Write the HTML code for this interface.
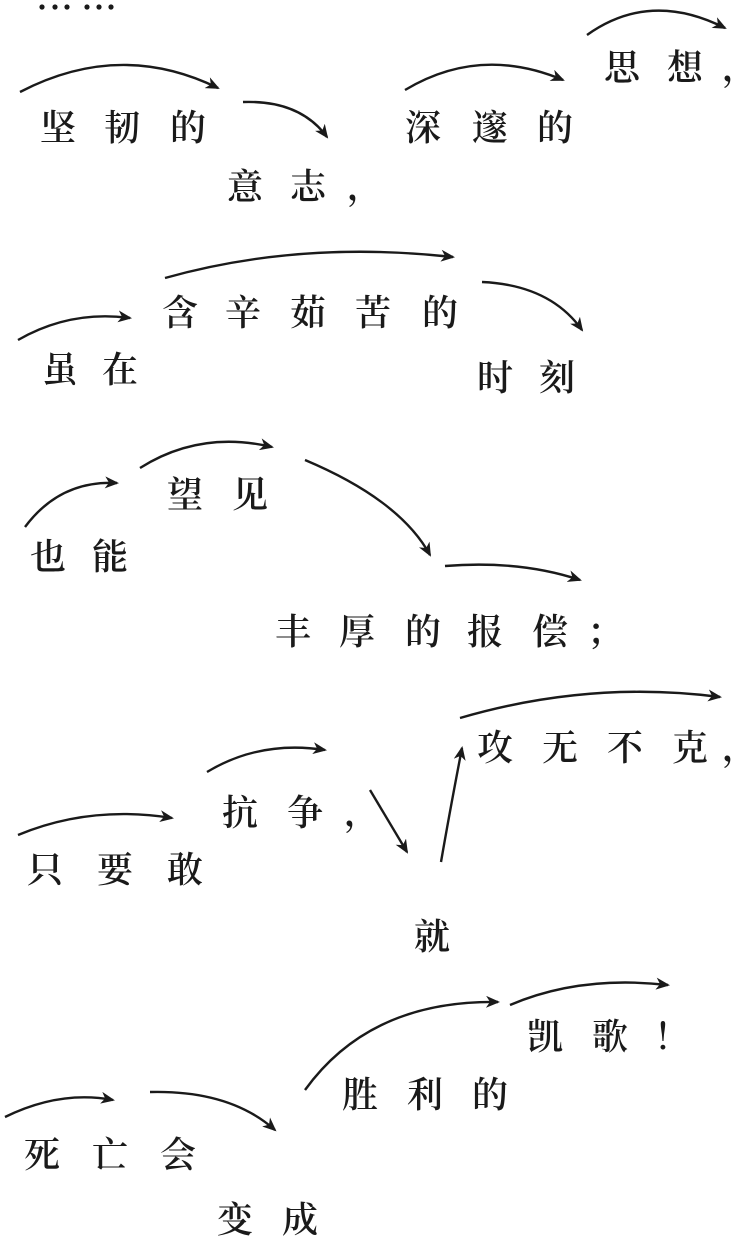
<!DOCTYPE html>
<html><head><meta charset="utf-8"><style>
html,body{margin:0;padding:0;background:#fff;}
body{width:751px;height:1242px;position:relative;overflow:hidden;font-family:"Liberation Serif","Noto Serif CJK SC",serif;color:#1a1a1a;}
.c{position:absolute;font-size:36px;line-height:36px;width:40px;text-align:center;transform:translate(-50%,-50%);font-weight:600;}
svg{position:absolute;left:0;top:0;}
</style></head><body>
<svg width="751" height="1242" viewBox="0 0 751 1242">
<defs><marker id="a" markerWidth="14" markerHeight="12" refX="12" refY="6" orient="auto" markerUnits="userSpaceOnUse"><path d="M0,0 L14,6 L0,12 L4,6 Z" fill="#1a1a1a"/></marker></defs>
<g fill="#1a1a1a"><circle cx="42" cy="7" r="2.6"/><circle cx="55" cy="7" r="2.6"/><circle cx="67" cy="7" r="2.6"/><circle cx="87" cy="7" r="2.6"/><circle cx="99" cy="7" r="2.6"/><circle cx="111" cy="7" r="2.6"/></g>
<g fill="none" stroke="#1a1a1a" stroke-width="2.4" marker-end="url(#a)">
<path d="M20,92 Q120,40 218,88"/>
<path d="M243,102 Q300,100 327,137"/>
<path d="M405,90 Q480,45 563,80"/>
<path d="M587,35 Q650,-10 725,28"/>
<path d="M18,340 Q70,310 130,318"/>
<path d="M165,278 Q300,240 453,257"/>
<path d="M482,282 Q550,285 582,330"/>
<path d="M25,527 Q60,480 117,483"/>
<path d="M140,468 Q200,430 272,447"/>
<path d="M305,460 Q400,500 430,555"/>
<path d="M445,566 Q520,560 580,580"/>
<path d="M460,718 Q590,680 720,697"/>
<path d="M18,835 Q90,805 172,818"/>
<path d="M207,772 Q260,740 325,750"/>
<path d="M370,790 L407,852"/>
<path d="M441,862 Q450,810 462,748"/>
<path d="M305,1090 Q370,1000 498,1002"/>
<path d="M510,1005 Q580,975 668,985"/>
<path d="M5,1117 Q60,1090 113,1100"/>
<path d="M150,1092 Q230,1090 275,1130"/>
</g></svg>
<div class="c" style="left:58px;top:128px">坚</div><div class="c" style="left:122px;top:128px">韧</div><div class="c" style="left:188px;top:128px">的</div>
<div class="c" style="left:245px;top:187px">意</div><div class="c" style="left:308px;top:187px">志</div><div class="c" style="left:365px;top:187px">，</div>
<div class="c" style="left:423px;top:128px">深</div><div class="c" style="left:490px;top:128px">邃</div><div class="c" style="left:555px;top:128px">的</div>
<div class="c" style="left:622px;top:68px">思</div><div class="c" style="left:685px;top:68px">想</div><div class="c" style="left:740px;top:68px">，</div>
<div class="c" style="left:60px;top:370px">虽</div><div class="c" style="left:120px;top:370px">在</div>
<div class="c" style="left:180px;top:313px">含</div><div class="c" style="left:243px;top:313px">辛</div><div class="c" style="left:308px;top:313px">茹</div><div class="c" style="left:373px;top:313px">苦</div><div class="c" style="left:440px;top:313px">的</div>
<div class="c" style="left:495px;top:378px">时</div><div class="c" style="left:557px;top:378px">刻</div>
<div class="c" style="left:48px;top:557px">也</div><div class="c" style="left:110px;top:557px">能</div>
<div class="c" style="left:185px;top:495px">望</div><div class="c" style="left:250px;top:495px">见</div>
<div class="c" style="left:293px;top:632px">丰</div><div class="c" style="left:357px;top:632px">厚</div><div class="c" style="left:423px;top:632px">的</div><div class="c" style="left:485px;top:632px">报</div><div class="c" style="left:550px;top:632px">偿</div><div class="c" style="left:605px;top:632px">；</div>
<div class="c" style="left:495px;top:748px">攻</div><div class="c" style="left:560px;top:748px">无</div><div class="c" style="left:625px;top:748px">不</div><div class="c" style="left:690px;top:748px">克</div><div class="c" style="left:740px;top:748px">，</div>
<div class="c" style="left:240px;top:813px">抗</div><div class="c" style="left:305px;top:813px">争</div><div class="c" style="left:362px;top:813px">，</div>
<div class="c" style="left:45px;top:870px">只</div><div class="c" style="left:115px;top:870px">要</div><div class="c" style="left:185px;top:870px">敢</div>
<div class="c" style="left:432px;top:937px">就</div>
<div class="c" style="left:545px;top:1037px">凯</div><div class="c" style="left:610px;top:1037px">歌</div><div class="c" style="left:672px;top:1037px">！</div>
<div class="c" style="left:360px;top:1095px">胜</div><div class="c" style="left:425px;top:1095px">利</div><div class="c" style="left:490px;top:1095px">的</div>
<div class="c" style="left:42px;top:1155px">死</div><div class="c" style="left:110px;top:1155px">亡</div><div class="c" style="left:178px;top:1155px">会</div>
<div class="c" style="left:235px;top:1220px">变</div><div class="c" style="left:300px;top:1220px">成</div>
</body></html>
